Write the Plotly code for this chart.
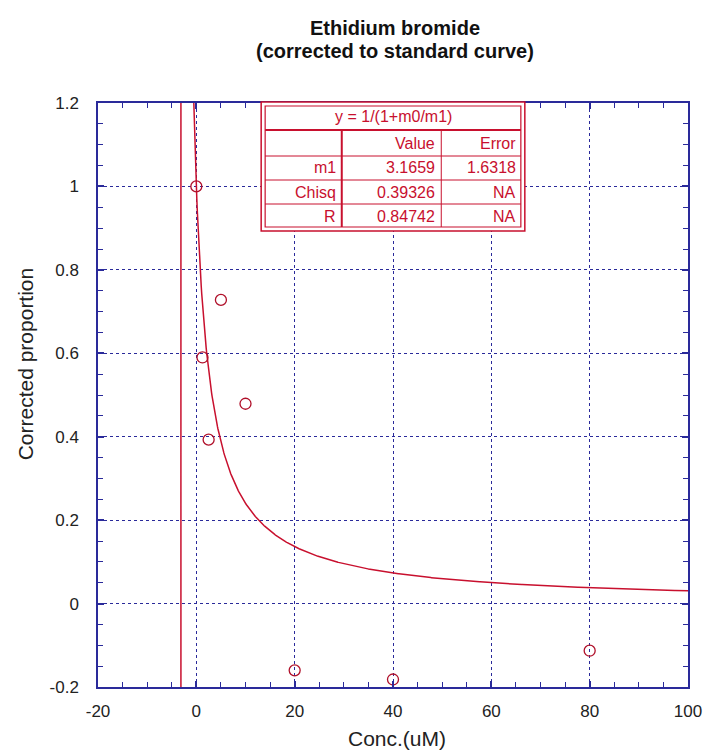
import numpy as np
import plotly.graph_objects as go

# ---- data ----
conc = [0, 1.25, 2.5, 5, 10, 20, 40, 80]
proportion = [1.0, 0.59, 0.393, 0.728, 0.479, -0.160, -0.182, -0.113]
m1 = 3.1659
fit_table_header = "y = 1/(1+m0/m1)"
table_cols = ["", "Value", "Error"]
table_rows = [["m1", "3.1659", "1.6318"],
              ["Chisq", "0.39326", "NA"],
              ["R", "0.84742", "NA"]]
x_tickvals = [-20, 0, 20, 40, 60, 80, 100]
x_ticktext = ["-20", "0", "20", "40", "60", "80", "100"]
y_tickvals = [-0.2, 0, 0.2, 0.4, 0.6, 0.8, 1.0, 1.2]
y_ticktext = ["-0.2", "0", "0.2", "0.4", "0.6", "0.8", "1", "1.2"]

# fitted curve y = 1/(1 + x/m1)
x_fit = np.linspace(-18, 100, 1181)
y_fit = 1.0 / (1.0 + x_fit / m1)

W, H = 714, 753
L, R, T, B = 98, 691, 103, 687
def px(x):
    return (x - L) / (R - L)
def py(y):
    return (B - y) / (B - T)

RED = "#c8102e"
NAVY = "#2a2a9a"
FONT = "Liberation Sans, Arial, sans-serif"

fig = go.Figure()
fig.add_trace(go.Scatter(x=x_fit, y=y_fit, mode="lines",
                         line=dict(color=RED, width=1.5), hoverinfo="skip",
                         showlegend=False))
fig.add_trace(go.Scatter(x=conc, y=proportion, mode="markers",
                         marker=dict(symbol="circle-open", size=11,
                                     color="#b0102a", line=dict(width=1.3)),
                         showlegend=False))

axis_common = dict(
    showline=True, linecolor=NAVY, linewidth=1.5, mirror="ticks",
    ticks="inside", tickcolor=NAVY, ticklen=6, tickwidth=1.5,
    showgrid=True, gridcolor=NAVY, griddash="dot", gridwidth=1,
    zeroline=False,
    tickfont=dict(family=FONT, size=17, color="#222222"),
)

fig.update_xaxes(range=[-20, 100], tickvals=x_tickvals, ticktext=x_ticktext,
                 ticklabelstandoff=8,
                 minor=dict(dtick=5, tick0=0, ticks="inside", ticklen=5,
                            tickcolor=NAVY, tickwidth=1.2, showgrid=False),
                 **axis_common)
fig.update_yaxes(range=[-0.2, 1.2], tickvals=y_tickvals, ticktext=y_ticktext,
                 ticklabelstandoff=14,
                 minor=dict(dtick=0.05, tick0=0, ticks="inside", ticklen=5,
                            tickcolor=NAVY, tickwidth=1.2, showgrid=False),
                 **axis_common)

shapes = []
# table background and double border
tx0, tx1, ty0, ty1 = 262, 527, 102, 231
shapes.append(dict(type="rect", xref="paper", yref="paper",
                   x0=px(tx0), x1=px(tx1), y0=py(ty1), y1=py(ty0),
                   fillcolor="white", line=dict(color=RED, width=1.5), layer="above"))
ix0, ix1, iy0, iy1 = tx0 + 4, tx1 - 4, ty0 + 4, ty1 - 4
shapes.append(dict(type="rect", xref="paper", yref="paper",
                   x0=px(ix0), x1=px(ix1), y0=py(iy1), y1=py(iy0),
                   line=dict(color=RED, width=1.2), layer="above"))
# header separator
hy = 130
shapes.append(dict(type="line", xref="paper", yref="paper",
                   x0=px(ix0), x1=px(ix1), y0=py(hy), y1=py(hy),
                   line=dict(color=RED, width=2), layer="above"))
row_lines = [156, 180, 204]
for ry in row_lines:
    shapes.append(dict(type="line", xref="paper", yref="paper",
                       x0=px(ix0), x1=px(ix1), y0=py(ry), y1=py(ry),
                       line=dict(color=RED, width=1), layer="above"))
c1, c2 = 343, 443
shapes.append(dict(type="line", xref="paper", yref="paper",
                   x0=px(c1), x1=px(c1), y0=py(hy), y1=py(iy1),
                   line=dict(color=RED, width=2), layer="above"))
shapes.append(dict(type="line", xref="paper", yref="paper",
                   x0=px(c2), x1=px(c2), y0=py(hy), y1=py(iy1),
                   line=dict(color=RED, width=1), layer="above"))

annotations = []
tfont = dict(family=FONT, size=16, color=RED)
annotations.append(dict(xref="paper", yref="paper", x=px((tx0 + tx1) / 2), y=py(117),
                        text=fit_table_header, showarrow=False, font=tfont,
                        xanchor="center", yanchor="middle"))
row_centers = [143, 168, 192, 216]
col_right = [c1 - 4, c2 - 4, ix1 - 3]
all_rows = [table_cols] + table_rows
for r, row in enumerate(all_rows):
    for c, txt in enumerate(row):
        if txt:
            annotations.append(dict(xref="paper", yref="paper",
                                    x=px(col_right[c]), y=py(row_centers[r]),
                                    text=txt, showarrow=False, font=tfont,
                                    xanchor="right", yanchor="middle"))

# titles
annotations.append(dict(xref="paper", yref="paper", x=px(397), y=py(28),
                        text="<b>Ethidium bromide</b>", showarrow=False,
                        font=dict(family=FONT, size=20, color="#111111"),
                        xanchor="center", yanchor="middle"))
annotations.append(dict(xref="paper", yref="paper", x=px(397), y=py(51),
                        text="<b>(corrected to standard curve)</b>", showarrow=False,
                        font=dict(family=FONT, size=20, color="#111111"),
                        xanchor="center", yanchor="middle"))
annotations.append(dict(xref="paper", yref="paper", x=px(399), y=py(738),
                        text="Conc.(uM)", showarrow=False,
                        font=dict(family=FONT, size=21, color="#222222"),
                        xanchor="center", yanchor="middle"))
annotations.append(dict(xref="paper", yref="paper", x=px(25), y=py(364),
                        text="Corrected proportion", showarrow=False, textangle=-90,
                        font=dict(family=FONT, size=21, color="#222222"),
                        xanchor="center", yanchor="middle"))

fig.update_layout(
    width=W, height=H,
    margin=dict(l=L, r=W - R, t=T, b=H - B),
    plot_bgcolor="white", paper_bgcolor="white",
    shapes=shapes, annotations=annotations,
    showlegend=False,
)

fig.write_html("out.html", config={"displayModeBar": False},
               post_script="document.body.style.margin='0';document.body.style.padding='0';")
